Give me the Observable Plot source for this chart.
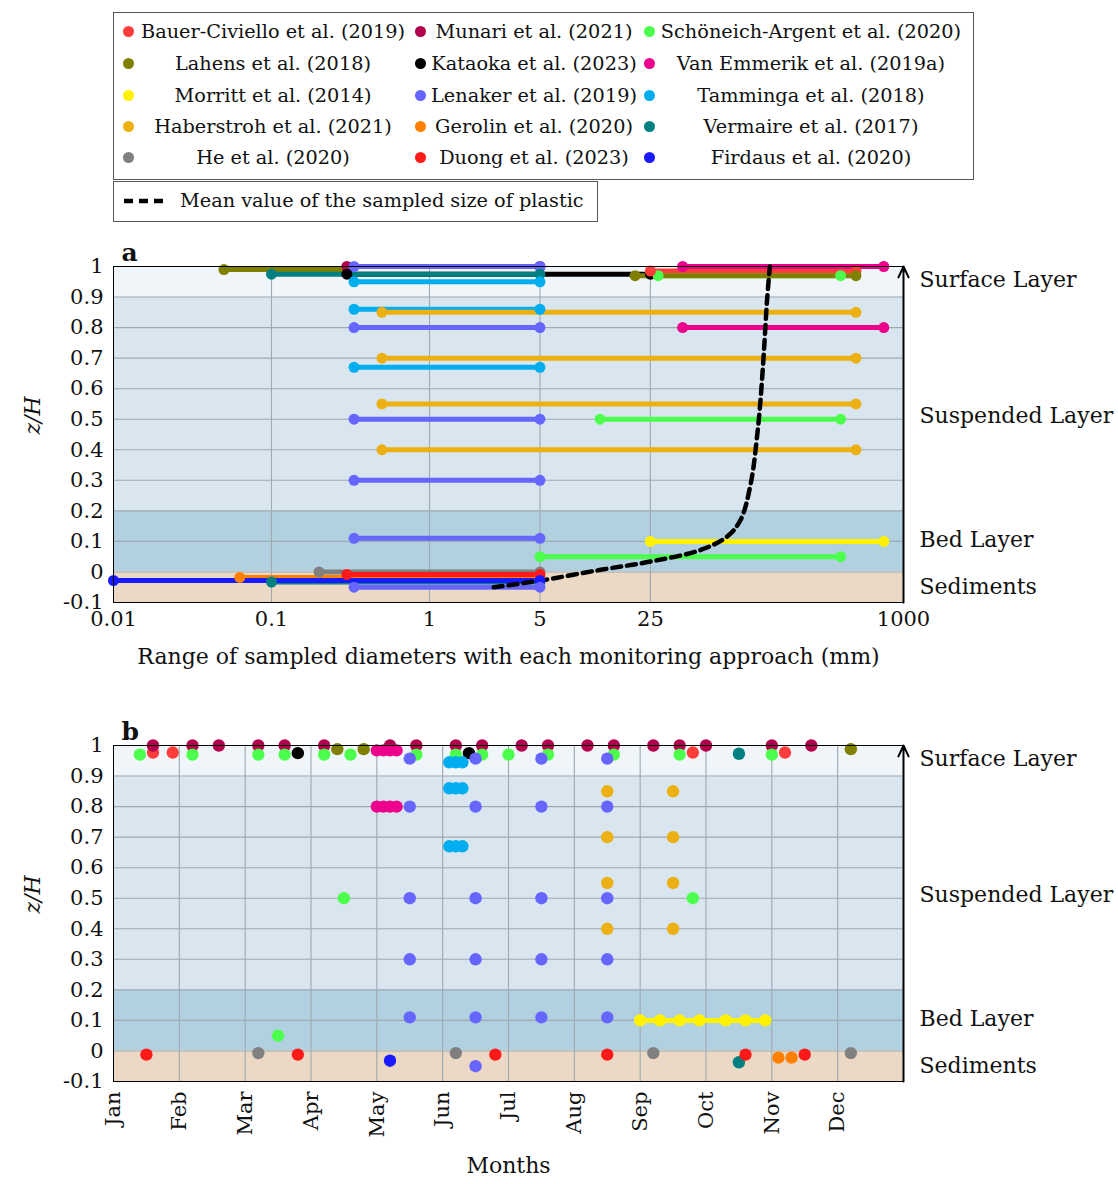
<!DOCTYPE html>
<html>
<head>
<meta charset="utf-8">
<script src="https://cdn.jsdelivr.net/npm/d3@7"></script>
<script src="https://cdn.jsdelivr.net/npm/@observablehq/plot@0.6"></script>
<style>
  html, body { margin: 0; padding: 0; background: #fff; }
  body { width: 1118px; height: 1184px; position: relative; overflow: hidden; font-family: 'DejaVu Serif', serif; color: #111; }
  .box { position: absolute; border: 1.5px solid #555; box-sizing: border-box; }
  .cell { position: absolute; height: 24px; }
  .dot { position: absolute; width: 11px; height: 11px; border-radius: 50%; top: 6px; }
  .lab { position: absolute; top: 0; transform: translateX(-50%); white-space: nowrap; font-size: 19.3px; line-height: 24px; }
  #pa, #pb { position: absolute; left: 0; }
</style>
</head>
<body>
<div id="legend" class="box" style="left:113px;top:12px;width:861px;height:168px;"></div>
<div id="legend2" class="box" style="left:113px;top:181px;width:485px;height:41px;">
  <svg style="position:absolute;left:9px;top:14px" width="46" height="10"><line x1="1" y1="5" x2="44" y2="5" stroke="#000" stroke-width="4.5" stroke-dasharray="9,6"/></svg>
  <span style="position:absolute;left:66px;top:7px;font-size:19.3px;line-height:24px;white-space:nowrap;">Mean value of the sampled size of plastic</span>
</div>
<div id="pa" style="top:230px"></div>
<div id="pb" style="top:690px"></div>
<script>
// ---------------- data ----------------
const studies = ["Bauer-Civiello et al. (2019)", "Munari et al. (2021)", "Schöneich-Argent et al. (2020)",
  "Lahens et al. (2018)", "Kataoka et al. (2023)", "Van Emmerik et al. (2019a)",
  "Morritt et al. (2014)", "Lenaker et al. (2019)", "Tamminga et al. (2018)",
  "Haberstroh et al. (2021)", "Gerolin et al. (2020)", "Vermaire et al. (2017)",
  "He et al. (2020)", "Duong et al. (2023)", "Firdaus et al. (2020)"];
const studyColors = ["#ff3c3c", "#b3004d", "#4dff4d", "#808000", "#000000", "#ec008c",
  "#fff200", "#6666ff", "#00aeef", "#ecb013", "#ff8000", "#008080", "#808080", "#ff1a1a", "#1a1aff"];

// layers of the water column
const layerNames = ["Surface Layer", "Suspended Layer", "Bed Layer", "Sediments"];
const layerZ0 = [0.9, 0.2, 0, -0.1];
const layerZ1 = [1.0, 0.9, 0.2, 0];
const layerLabelZ = [0.955, 0.51, 0.105, -0.05];

// panel a: sampled size ranges (mm) at relative depth z/H
const aStudy = [3, 1, 7, 4, 11, 8, 8, 8, 9, 9, 9, 9, 7, 7, 7, 7, 2, 0, 3, 5, 5, 2, 2, 6, 12, 10, 13, 11, 14, 7];
const aMin   = [0.05, 0.3, 0.333, 0.3, 0.1, 0.333, 0.333, 0.333, 0.5, 0.5, 0.5, 0.5, 0.333, 0.333, 0.333, 0.333, 28, 25, 20, 40, 40, 12, 5, 25, 0.2, 0.063, 0.3, 0.1, 0.01, 0.333];
const aMax   = [0.3, 5, 5, 25, 5, 5, 5, 5, 500, 500, 500, 500, 5, 5, 5, 5, 400, 500, 500, 750, 750, 400, 400, 750, 5, 5, 5, 5, 5, 5];
const aZ     = [0.99, 1.0, 1.0, 0.975, 0.975, 0.95, 0.86, 0.67, 0.85, 0.70, 0.55, 0.40, 0.8, 0.5, 0.3, 0.11, 0.97, 0.985, 0.97, 1.0, 0.8, 0.5, 0.05, 0.1, 0.0, -0.018, -0.008, -0.033, -0.028, -0.05];

// mean sampled size (mm) vs z/H
const meanSize = [2.55, 5.06, 12.1, 25, 52, 76.5, 93, 108, 119, 124.5, 131, 137, 142.6];
const meanZ    = [-0.05, -0.028, 0.007, 0.034, 0.072, 0.116, 0.17, 0.29, 0.455, 0.564, 0.728, 0.892, 1.0];

// panel b: sampling month (0 = start of Jan) and z/H
const bStudy = [
  0,0,0,0,
  1,1,1,1,1,1,1,1,1,1,1,1,1,1,1,1,1,1,1,
  2,2,2,2,2,2,2,2,2,2,2,2,2,2, 2,2, 2,
  3,3,3,
  4,4,
  5,5,5,5, 5,5,5,5,
  6,6,6,6,6,6,6,
  7,7,7,7, 7,7,7,7, 7,7,7,7, 7,7,7,7, 7,7,7,7, 7,
  8,8,8, 8,8,8, 8,8,8,
  9,9, 9,9, 9,9, 9,9,
  10,10,
  11,11,
  12,12,12,12,
  13,13,13,13,13,13,
  14];
const bMonth = [
  0.6,0.9,8.8,10.2,
  0.6,1.2,1.6,2.2,2.6,3.2,4.2,4.6,5.2,5.6,6.2,6.6,7.2,7.6,8.2,8.6,9.0,10.0,10.6,
  0.4,1.2,2.2,2.6,3.2,3.6,4.6,5.2,5.6,6.0,6.6,7.6,8.6,10.0, 3.5,8.8, 2.5,
  3.4,3.8,11.2,
  2.8,5.4,
  4.0,4.1,4.2,4.3, 4.0,4.1,4.2,4.3,
  8.0,8.3,8.6,8.9,9.3,9.6,9.9,
  4.5,5.5,6.5,7.5, 4.5,5.5,6.5,7.5, 4.5,5.5,6.5,7.5, 4.5,5.5,6.5,7.5, 4.5,5.5,6.5,7.5, 5.5,
  5.1,5.2,5.3, 5.1,5.2,5.3, 5.1,5.2,5.3,
  7.5,8.5, 7.5,8.5, 7.5,8.5, 7.5,8.5,
  10.1,10.3,
  9.5,9.5,
  2.2,5.2,8.2,11.2,
  0.5,2.8,5.8,7.5,9.6,10.5,
  4.2];
const bZ = [
  0.977,0.977,0.977,0.977,
  1,1,1,1,1,1,1,1,1,1,1,1,1,1,1,1,1,1,1,
  0.97,0.97,0.97,0.97,0.97,0.97,0.97,0.97,0.97,0.97,0.97,0.97,0.97,0.97, 0.5,0.5, 0.05,
  0.988,0.988,0.988,
  0.975,0.975,
  0.984,0.984,0.984,0.984, 0.8,0.8,0.8,0.8,
  0.1,0.1,0.1,0.1,0.1,0.1,0.1,
  0.957,0.957,0.957,0.957, 0.8,0.8,0.8,0.8, 0.5,0.5,0.5,0.5, 0.3,0.3,0.3,0.3, 0.11,0.11,0.11,0.11, -0.05,
  0.945,0.945,0.945, 0.86,0.86,0.86, 0.67,0.67,0.67,
  0.85,0.85, 0.7,0.7, 0.55,0.55, 0.4,0.4,
  -0.022,-0.022,
  0.973,-0.037,
  -0.007,-0.007,-0.007,-0.007,
  -0.012,-0.012,-0.012,-0.012,-0.012,-0.012,
  -0.032];

const yTicks = [-0.1, 0, 0.1, 0.2, 0.3, 0.4, 0.5, 0.6, 0.7, 0.8, 0.9, 1];
const aTicks = [0.01, 0.1, 1, 5, 25, 1000];
const aTickLabels = ["0.01", "0.1", "1", "5", "25", "1000"];
const aGrid = [0.1, 1, 5, 25];
const monthLabels = ["Jan", "Feb", "Mar", "Apr", "May", "Jun", "Jul", "Aug", "Sep", "Oct", "Nov", "Dec"];

// ---------------- styles ----------------
const FONT = "'DejaVu Serif', serif";
const TICK = 21, LABEL = 22;
const layerFills = ["#eff5f9", "#d9e6ef", "#b1d1e0", "#ebd9c5"];
const gridColor = "#9ea9b0";

// ---------------- legend ----------------
const legend = document.getElementById("legend");
const colDot = [14, 306, 535], colText = [159, 420, 697], rowY = [7, 39, 71, 102, 133];
studies.forEach((s, i) => {
  const r = Math.floor(i / 3), c = i % 3;
  const cell = document.createElement("div");
  cell.className = "cell";
  cell.style.left = "0px"; cell.style.top = rowY[r] + "px";
  const dot = document.createElement("span");
  dot.className = "dot"; dot.style.left = (colDot[c] - 5.5) + "px"; dot.style.background = studyColors[i];
  const lab = document.createElement("span");
  lab.className = "lab"; lab.style.left = colText[c] + "px"; lab.textContent = s;
  cell.appendChild(dot); cell.appendChild(lab); legend.appendChild(cell);
});

// ---------------- derived tables ----------------
const layers = layerNames.map((n, i) => ({name: n, z0: layerZ0[i], z1: layerZ1[i], lz: layerLabelZ[i]}));
const rangesA = aStudy.map((s, i) => ({study: studies[s], x1: aMin[i], x2: aMax[i], z: aZ[i]}));
const endsA = rangesA.flatMap(d => [{study: d.study, x: d.x1, z: d.z}, {study: d.study, x: d.x2, z: d.z}]);
const meanRows = meanSize.map((v, i) => ({x: v, z: meanZ[i]}));
const rowsB = bStudy.map((s, i) => ({study: studies[s], m: bMonth[i], z: bZ[i]}));
const morrittB = rowsB.filter(d => d.study === studies[6]);
const aTickRows = aTicks.map((t, i) => ({t, label: aTickLabels[i]}));

const yFmt = d => d === 0 ? "0" : d === 1 ? "1" : d.toFixed(1);
const colorScale = {domain: studies, range: studyColors};

function common(xmin, xmax, letter) {
  return {
    bands: layers.map((l, i) => Plot.rect([l], {x1: () => xmin, x2: () => xmax, y1: "z0", y2: "z1", fill: layerFills[i]})),
    gridY: Plot.ruleY(yTicks.slice(1, -1), {stroke: gridColor, strokeWidth: 1.1}),
    frame: Plot.frame({stroke: "#000", strokeWidth: 1}),
    arrow: Plot.arrow([0], {x1: () => xmax, x2: () => xmax, y1: () => -0.1, y2: () => 1.0, stroke: "#000", strokeWidth: 2, headLength: 9, headAngle: 50}),
    axisY: Plot.axisY({ticks: yTicks, tickFormat: yFmt, tickSize: 0, tickPadding: 10, fontSize: TICK, label: null}),
    ylabel: Plot.text(["z/H"], {frameAnchor: "left", dx: -81, rotate: -90, fontSize: LABEL, fontStyle: "italic", fontFamily: FONT}),
    layerText: Plot.text(layers, {frameAnchor: "right", y: "lz", text: "name", dx: 16, textAnchor: "start", fontSize: LABEL, fontFamily: FONT}),
    letter: Plot.text([letter], {frameAnchor: "top-left", dx: 8, dy: -6, lineAnchor: "bottom", fontSize: 25, fontWeight: "bold", fontFamily: FONT})
  };
}

// ---------------- panel a ----------------
const ca = common(0.01, 1000, "a");
const plotA = Plot.plot({
  width: 1118, height: 452,
  marginLeft: 113, marginRight: 215, marginTop: 36, marginBottom: 80,
  style: {fontFamily: FONT, fontSize: TICK + "px", background: "transparent", overflow: "visible"},
  x: {type: "log", domain: [0.01, 1000], axis: null},
  y: {domain: [-0.1, 1]},
  color: colorScale,
  marks: [
    ...ca.bands,
    ca.gridY,
    Plot.ruleX(aGrid, {stroke: gridColor, strokeWidth: 1.1}),
    Plot.ruleY(rangesA, {x1: "x1", x2: "x2", y: "z", stroke: "study", strokeWidth: 5}),
    Plot.line(meanRows, {x: "x", y: "z", stroke: "#000", strokeWidth: 4.5, strokeDasharray: "9,6", curve: "catmull-rom"}),
    Plot.dot(endsA, {x: "x", y: "z", fill: "study", r: 5.5}),
    ca.frame, ca.arrow,
    ca.axisY,
    Plot.text(aTickRows, {x: "t", text: "label", frameAnchor: "bottom", lineAnchor: "top", dy: 9, fontSize: TICK, fontFamily: FONT}),
    Plot.text(["Range of sampled diameters with each monitoring approach (mm)"], {frameAnchor: "bottom", dy: 61, fontSize: LABEL, fontFamily: FONT}),
    ca.ylabel, ca.layerText, ca.letter
  ]
});
document.getElementById("pa").appendChild(plotA);

// ---------------- panel b ----------------
const cb = common(0, 12, "b");
const plotB = Plot.plot({
  width: 1118, height: 494,
  marginLeft: 113, marginRight: 215, marginTop: 55, marginBottom: 103,
  style: {fontFamily: FONT, fontSize: TICK + "px", background: "transparent", overflow: "visible"},
  x: {domain: [0, 12]},
  y: {domain: [-0.1, 1]},
  color: colorScale,
  marks: [
    ...cb.bands,
    cb.gridY,
    Plot.ruleX(d3.range(1, 12), {stroke: gridColor, strokeWidth: 1.1}),
    Plot.line(morrittB, {x: "m", y: "z", stroke: studyColors[6], strokeWidth: 5}),
    Plot.dot(rowsB, {x: "m", y: "z", fill: "study", r: 6.2}),
    cb.frame, cb.arrow,
    cb.axisY,
    Plot.axisX({ticks: d3.range(0, 12), tickFormat: i => monthLabels[i], tickRotate: -90, tickSize: 0, tickPadding: 10, fontSize: TICK, label: null}),
    Plot.text(["Months"], {frameAnchor: "bottom", dy: 91, fontSize: LABEL, fontFamily: FONT}),
    cb.ylabel, cb.layerText, cb.letter
  ]
});
document.getElementById("pb").appendChild(plotB);
</script>
</body>
</html>
